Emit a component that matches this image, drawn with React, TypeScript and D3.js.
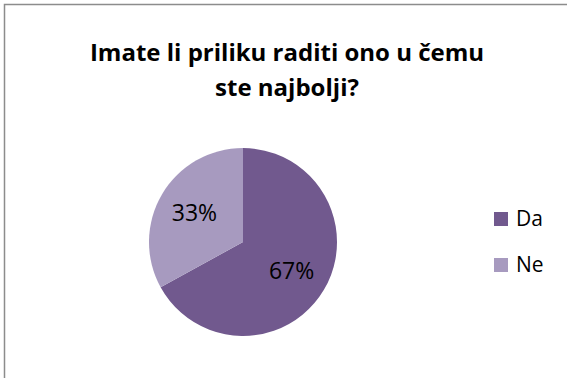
import React from "react";
import * as d3 from "d3";

const categories = ["Da", "Ne"];
const values = [67, 33];
const labels = ["67%", "33%"];
const colors = ["#71598E", "#A79ABF"];
const titleLines = ["Imate li priliku raditi ono u čemu", "ste najbolji?"];

export default function App() {
  const W = 567, H = 378;
  const cx = 243, cy = 242, r = 94;
  const pie = d3.pie<number>().sort(null).value((d) => d)(values);
  const arc = d3.arc<d3.PieArcDatum<number>>().innerRadius(0).outerRadius(r);
  const labelArc = d3.arc<d3.PieArcDatum<number>>().innerRadius(r * 0.6).outerRadius(r * 0.6);
  const font = "'Open Sans', sans-serif";
  return (
    <svg width={W} height={H} style={{ position: "absolute", left: 0, top: 0, background: "#fff" }} fontFamily={font}>
      <rect x={4.5} y={4.5} width={600} height={400} fill="#fff" stroke="#8c8c8c" strokeWidth={1.5} />
      {titleLines.map((t, i) => (
        <text key={i} x={287} y={61 + i * 35} textAnchor="middle" fontSize={24} fontWeight="bold" fill="#000">
          {t}
        </text>
      ))}
      <g transform={`translate(${cx},${cy})`}>
        {pie.map((p, i) => (
          <path key={i} d={arc(p) || ""} fill={colors[i]} />
        ))}
        {pie.map((p, i) => {
          const [x, y] = labelArc.centroid(p);
          return (
            <text key={i} x={x} y={y - 1} textAnchor="middle" dominantBaseline="central" fontSize={23} fill="#000">
              {labels[i]}
            </text>
          );
        })}
      </g>
      {categories.map((c, i) => (
        <g key={c} transform={`translate(494,${212 + i * 46})`}>
          <rect x={0} y={0} width={14} height={14} fill={colors[i]} />
          <text x={22} y={14} fontSize={21} fill="#000">{c}</text>
        </g>
      ))}
    </svg>
  );
}
